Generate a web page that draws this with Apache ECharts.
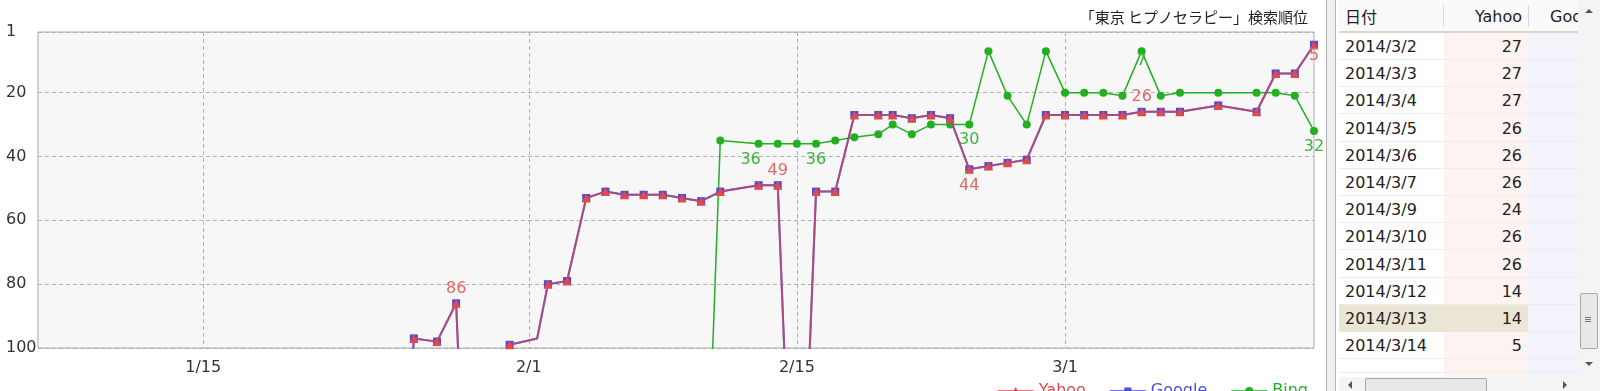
<!DOCTYPE html>
<html>
<head>
<meta charset="utf-8">
<script src="https://cdn.jsdelivr.net/npm/echarts@6/dist/echarts.min.js"></script>
<style>
  html, body { margin: 0; padding: 0; background: #fff; width: 1600px; height: 391px; overflow: hidden; }
  #chart { position: absolute; left: 0; top: 0; width: 1325px; height: 391px; }
  #panel { position: absolute; left: 1326px; top: 0; width: 274px; height: 391px; overflow: hidden;
           font-family: "DejaVu Sans", sans-serif; font-size: 16px; color: #222; background: #fff; }
  .splitter { position: absolute; left: 0; top: 0; width: 10px; height: 391px; background: #f0f0f0;
              border-left: 1px solid #b4b4b4; border-right: 1px solid #b4b4b4; box-sizing: border-box; }
  .hdr { position: absolute; top: 0; height: 31px; left: 13px; width: 239px; background: #fafafa;
         border-bottom: 2px solid #dcd6c6; }
  .hcell { position: absolute; top: 0; height: 31px; line-height: 33px; }
  .hsep { position: absolute; top: 5px; height: 22px; width: 1px; background: #d8d8d8; }
  .col { position: absolute; top: 33px; height: 344px; }
  .row { position: absolute; left: 13px; width: 239px; height: 27px; border-bottom: 1px solid #ececec; box-sizing: border-box; }
  .cell { position: absolute; top: 0; height: 27px; line-height: 28px; white-space: nowrap; }
  .vscroll { position: absolute; left: 252px; top: 0; width: 22px; height: 377px; background: #f4f4f4; }
  .hscroll { position: absolute; left: 13px; top: 377px; width: 261px; height: 14px; background: #f4f4f4; }
</style>
</head>
<body>
<div id="chart"></div>
<div id="panel"></div>
<script>
// ---------- chart data ----------
const seriesNames = ['Yahoo', 'Google', 'Bing'];
const OUT_OF_RANK = 200; // 圏外: plotted far below the axis and clipped

const yahooDates = ['2014-01-25','2014-01-26','2014-01-27 05:00','2014-01-28 05:00','2014-01-29','2014-01-30',
  '2014-01-31','2014-02-01 10:30','2014-02-02','2014-02-03','2014-02-04','2014-02-05','2014-02-06','2014-02-07',
  '2014-02-08','2014-02-09','2014-02-10','2014-02-11','2014-02-13','2014-02-14','2014-02-15','2014-02-16',
  '2014-02-17','2014-02-18','2014-02-19 06:00','2014-02-20','2014-02-21','2014-02-22','2014-02-23','2014-02-24',
  '2014-02-25','2014-02-26','2014-02-27','2014-02-28','2014-03-01','2014-03-02','2014-03-03','2014-03-04',
  '2014-03-05','2014-03-06','2014-03-07','2014-03-09','2014-03-11','2014-03-12','2014-03-13','2014-03-14'];
const yahooRank = [200,97,98,86,200,200,99,97,80,79,53,51,52,52,52,53,54,51,49,49,200,51,51,27,27,27,28,27,28,44,
  43,42,41,27,27,27,27,27,26,26,26,24,26,14,14,5];
const googleDates = yahooDates.slice();
const googleRank = [200,97,98,86,200,200,99,97,80,79,53,51,52,52,52,53,54,51,49,49,200,51,51,27,27,27,28,27,28,44,
  43,42,41,27,27,27,27,27,26,26,26,24,26,14,14,5];

const bingDates = ['2014-02-10','2014-02-11','2014-02-13','2014-02-14','2014-02-15','2014-02-16','2014-02-17',
  '2014-02-18','2014-02-19 06:00','2014-02-20','2014-02-21','2014-02-22','2014-02-23','2014-02-24','2014-02-25',
  '2014-02-26','2014-02-27','2014-02-28','2014-03-01','2014-03-02','2014-03-03','2014-03-04','2014-03-05',
  '2014-03-06','2014-03-07','2014-03-09','2014-03-11','2014-03-12','2014-03-13','2014-03-14'];
const bingRank = [200,35,36,36,36,36,35,34,33,30,33,30,30,30,7,21,30,7,20,20,20,21,7,21,20,20,20,20,21,32];

const xTickDates = ['2014-01-15','2014-02-01','2014-02-15','2014-03-01'];
const yTickValues = [1, 20, 40, 60, 80, 100];

// ---------- table data (right-hand panel) ----------
const tableHeaders = ['日付', 'Yahoo', 'Google'];
const tableDates = ['2014/3/2','2014/3/3','2014/3/4','2014/3/5','2014/3/6','2014/3/7','2014/3/9','2014/3/10',
  '2014/3/11','2014/3/12','2014/3/13','2014/3/14'];
const tableYahoo = [27,27,27,26,26,26,24,26,26,14,14,5];

// ---------- presentation config ----------
const labelCfg = {
  Yahoo: { '2014-01-28 05:00': {position:'top', distance:2}, '2014-02-14': {position:'top', distance:2},
           '2014-02-24': {position:'bottom', distance:4}, '2014-03-05': {position:'top', distance:2},
           '2014-03-14': {position:'bottom', distance:-1} },
  Bing:  { '2014-02-13': {position:'bottom', distance:4, offset:[-8,0]}, '2014-02-16': {position:'bottom', distance:4},
           '2014-02-24': {position:'bottom', distance:3}, '2014-03-05': {position:'bottom', distance:-2},
           '2014-03-14': {position:'bottom', distance:4} }
};
const hiddenSymbol = { Yahoo: ['2014-02-01 10:30'], Google: ['2014-02-01 10:30'] };

function parseT(s) {
  const [d, t] = s.split(' ');
  const [Y, M, D] = d.split('-').map(Number);
  let h = 0, m = 0;
  if (t) { [h, m] = t.split(':').map(Number); }
  return new Date(Y, M - 1, D, h, m).getTime();
}
function build(name, dates, vals) {
  return dates.map((d, i) => {
    const item = { value: [parseT(d), vals[i]] };
    const lc = labelCfg[name] && labelCfg[name][d];
    if (lc) item.label = Object.assign({ show: true }, lc);
    if (hiddenSymbol[name] && hiddenSymbol[name].includes(d)) item.symbol = 'none';
    return item;
  });
}

const RED = '#e04a4a', BLUE = '#4a4ae0', GREEN = '#22b022';
const FONT = '"DejaVu Sans", sans-serif';
const ICONS = {
  Yahoo: 'path://M0,3.2H36V4.8H0Z M18,0L22.5,8H13.5Z',
  Google: 'path://M0,3.2H36V4.8H0Z M14.5,0.5H21.5V7.5H14.5Z M0,0H0.01V8H0Z',
  Bing: 'path://M0,3.2H36V4.8H0Z M14,4A4,4,0,1,1,22,4A4,4,0,1,1,14,4Z'
};

const chart = echarts.init(document.getElementById('chart'), null, { renderer: 'canvas' });
chart.setOption({
  animation: false,
  textStyle: { fontFamily: FONT },
  title: {
    text: '「東京 ヒプノセラピー」検索順位', right: 12, top: 5,
    textStyle: { fontFamily: '"Noto Sans CJK JP", sans-serif', fontSize: 15, fontWeight: 'normal', color: '#222' }
  },
  legend: {
    right: 12, top: 378, itemWidth: 36, itemHeight: 8, itemGap: 24,
    textStyle: { fontSize: 16, fontFamily: FONT },
    data: [
      { name: 'Yahoo', icon: ICONS.Yahoo, itemStyle: { color: RED, opacity: 1 }, textStyle: { color: RED } },
      { name: 'Google', icon: ICONS.Google, itemStyle: { color: BLUE, opacity: 1 }, textStyle: { color: BLUE } },
      { name: 'Bing', icon: ICONS.Bing, itemStyle: { color: GREEN, opacity: 1 }, textStyle: { color: GREEN } }
    ]
  },
  grid: { left: 38, top: 32, right: 11, bottom: 43, show: true, backgroundColor: '#f7f7f7',
          borderColor: '#a8a8a8', borderWidth: 1, containLabel: false },
  xAxis: {
    type: 'value', min: parseT('2014-01-06 09:00'), max: parseT('2014-03-14'),
    axisLine: { show: false },
    axisTick: { show: false, customValues: xTickDates.map(parseT) },
    axisLabel: { customValues: xTickDates.map(parseT), fontSize: 16, color: '#333', margin: 12, fontFamily: FONT,
      formatter: v => { const d = new Date(v); return (d.getMonth() + 1) + '/' + d.getDate(); } },
    splitLine: { show: true, lineStyle: { color: '#b0b0b0', type: [4, 3], width: 1 } }
  },
  yAxis: {
    type: 'value', inverse: true, min: 1, max: 100,
    axisLine: { show: false },
    axisTick: { show: false, customValues: yTickValues },
    axisLabel: { customValues: yTickValues, fontSize: 16, color: '#333', align: 'left', margin: 32, fontFamily: FONT },
    splitLine: { show: true, lineStyle: { color: '#b0b0b0', type: [4, 3], width: 1 } }
  },
  series: [
    { name: 'Yahoo', type: 'line', z: 4, data: build('Yahoo', yahooDates, yahooRank),
      symbol: 'triangle', symbolSize: 9, color: RED,
      lineStyle: { width: 2, color: RED, opacity: 0.65 }, itemStyle: { color: RED },
      label: { show: false, color: '#e06868', fontSize: 16, fontFamily: FONT } },
    { name: 'Google', type: 'line', z: 3, data: build('Google', googleDates, googleRank),
      symbol: 'rect', symbolSize: 8, color: BLUE,
      lineStyle: { width: 2, color: BLUE }, itemStyle: { color: BLUE },
      label: { show: false } },
    { name: 'Bing', type: 'line', z: 2, data: build('Bing', bingDates, bingRank),
      symbol: 'circle', symbolSize: 8, color: GREEN,
      lineStyle: { width: 1.5, color: GREEN }, itemStyle: { color: GREEN },
      label: { show: false, color: '#3cb43c', fontSize: 16, fontFamily: FONT } }
  ]
});

// ---------- right panel (table) ----------
const panel = document.getElementById('panel');
let html = '<div class="splitter"></div>';
const colX = [13, 118, 202];   // column lefts within panel
const colW = [105, 84, 50];
html += '<div class="col" style="left:' + colX[1] + 'px;width:' + colW[1] + 'px;background:#fdf4f1"></div>';
html += '<div class="col" style="left:' + colX[2] + 'px;width:' + colW[2] + 'px;background:#f3f4fb"></div>';
html += '<div class="hdr">';
html += '<div class="hcell" style="left:6px;font-family:\'Noto Sans CJK JP\',sans-serif">' + tableHeaders[0] + '</div>';
html += '<div class="hsep" style="left:104px"></div>';
html += '<div class="hcell" style="left:105px;width:78px;text-align:right">' + tableHeaders[1] + '</div>';
html += '<div class="hsep" style="left:189px"></div>';
html += '<div class="hcell" style="left:211px">' + tableHeaders[2] + '</div>';
html += '</div>';
tableDates.forEach((d, i) => {
  const top = 33 + i * 27.2;
  const sel = i === 10;
  html += '<div class="row" style="top:' + top + 'px">';
  if (sel) html += '<div style="position:absolute;left:0;top:0;width:189px;height:27px;background:#ebe5d6"></div>';
  html += '<div class="cell" style="left:6px">' + d + '</div>';
  html += '<div class="cell" style="left:105px;width:78px;text-align:right">' + tableYahoo[i] + '</div>';
  html += '</div>';
});
html += '<div class="row" style="top:' + (33 + 12 * 27.2) + 'px;height:14px"></div>';
html += '<div class="vscroll">' +
  '<div style="position:absolute;left:7px;top:9px;width:0;height:0;border-left:4px solid transparent;border-right:4px solid transparent;border-bottom:4px solid #555"></div>' +
  '<div style="position:absolute;left:2px;top:293px;width:16px;height:54px;background:#e8e8e8;border:1px solid #a9a9a9;border-radius:2px"></div>' +
  '<div style="position:absolute;left:7px;top:317px;width:6px;height:1px;background:#777;box-shadow:0 2px 0 #777,0 4px 0 #777"></div>' +
  '<div style="position:absolute;left:7px;top:362px;width:0;height:0;border-left:4px solid transparent;border-right:4px solid transparent;border-top:4px solid #555"></div>' +
  '</div>';
html += '<div class="hscroll">' +
  '<div style="position:absolute;left:9px;top:4px;width:0;height:0;border-top:4px solid transparent;border-bottom:4px solid transparent;border-right:4px solid #555"></div>' +
  '<div style="position:absolute;left:26px;top:1px;width:120px;height:14px;background:#e8e8e8;border:1px solid #a9a9a9;border-radius:2px"></div>' +
  '<div style="position:absolute;left:224px;top:4px;width:0;height:0;border-top:4px solid transparent;border-bottom:4px solid transparent;border-left:4px solid #555"></div>' +
  '</div>';
panel.innerHTML = html;
</script>
</body>
</html>
